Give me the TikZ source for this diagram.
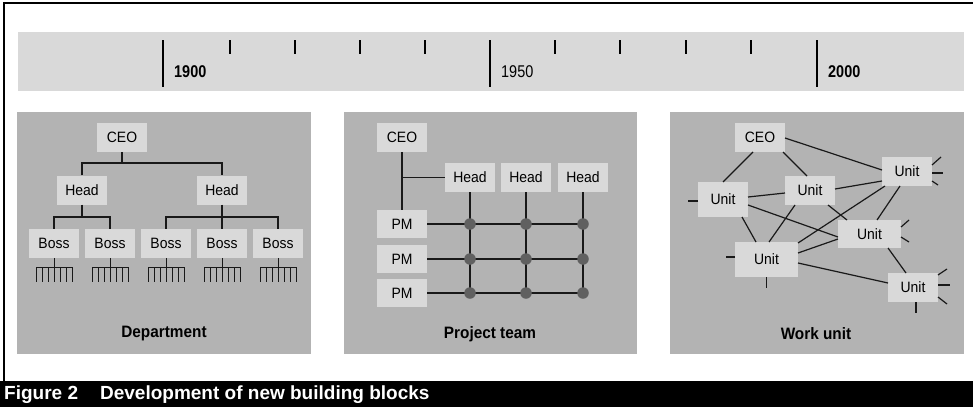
\documentclass[tikz,border=0pt]{standalone}
\usepackage{fontspec}
\setmainfont{Liberation Sans}
\newfontfamily\cf[FakeStretch=0.85]{Liberation Sans}
\newfontfamily\cfw[FakeStretch=0.93]{Liberation Sans}
\usetikzlibrary{calc}
\definecolor{bandgray}{HTML}{D9D9D9}
\definecolor{panelgray}{HTML}{B3B3B3}
\definecolor{dotgray}{HTML}{606060}
\begin{document}
\begin{tikzpicture}[x=1pt,y=-1pt,
  box/.style={fill=bandgray, inner sep=0pt, minimum width=50pt, minimum height=29pt,
    font=\cfw\fontsize{15}{15}\selectfont},
  ln/.style={line width=1.2pt, draw=black!90},
  stub/.style={line width=1.2pt, draw=black!90},
  dotnode/.style={circle, fill=dotgray, inner sep=0pt, minimum size=11.5pt},
  paneltitle/.style={font=\cfw\bfseries\fontsize{16.5}{17}\selectfont},
  year/.style={anchor=base west, inner sep=0pt, font=\cf\fontsize{17}{17}\selectfont},
  majortick/.style={line width=2pt, draw=black},
  minortick/.style={line width=1.1pt, draw=black}]
\useasboundingbox (0,0) rectangle (973,407);
% frame
\draw[line width=2.4pt] (4,381) -- (4,3) -- (973,3);
% timeline band
\fill[bandgray] (18,32) rectangle (964,91);
\draw[majortick] (163,40) -- (163,87);
\draw[majortick, line width=1.2pt] (490,40) -- (490,87);
\draw[majortick] (817,40) -- (817,87);
\foreach \x in {230,295,360,425,555,620,686,751}
  \draw[minortick] (\x,40) -- (\x,54);
\node[year, font=\cf\bfseries\fontsize{17}{17}\selectfont] (y1900) at (174,77) {1900};
\node[year] (y1950) at (501,77) {1950};
\node[year, font=\cf\bfseries\fontsize{17}{17}\selectfont] (y2000) at (828,77) {2000};
% panels
\fill[panelgray] (17,112) rectangle (311,354);
\fill[panelgray] (344,112) rectangle (637,354);
\fill[panelgray] (670,112) rectangle (964,354);
% ---------- Panel 1: Department
\node[box] (ceo1) at (122,137.5) {CEO};
\node[box] (h1a) at (82,190) {Head};
\node[box] (h1b) at (222,190) {Head};
\node[box] (b1) at (54,243.5) {Boss};
\node[box] (b2) at (110,243.5) {Boss};
\node[box] (b3) at (166,243.5) {Boss};
\node[box] (b4) at (222,243.5) {Boss};
\node[box] (b5) at (278,243.5) {Boss};
\coordinate (j1) at (122,163);
\coordinate (j2) at (82,217);
\coordinate (j3) at (222,217);
\draw[ln] (ceo1.south) -- (j1);
\draw[ln] (h1a.north) |- (j1) -| (h1b.north);
\draw[ln] (h1a.south) -- (j2);
\draw[ln] (b1.north) |- (j2) -| (b2.north);
\draw[ln] (h1b.south) -- (b4.north);
\draw[ln] (b3.north) |- (j3) -| (b5.north);
\foreach \b in {b1,b2,b3,b4,b5} {
  \draw[ln, line width=0.9pt] (\b.south) -- ++(0,24);
  \draw[ln, line width=0.9pt] ([shift={(-18,9)}]\b.south) -- ++(36,0);
  \foreach \d in {-18,-12,-6,6,12,18}
    \draw[ln, line width=0.9pt] ([shift={(\d,9)}]\b.south) -- ++(0,15);
}
\node[paneltitle] (t1) at (164,334) {Department};
% ---------- Panel 2: Project team
\node[box] (ceo2) at (402,137.5) {CEO};
\node[box] (h2a) at (470,177.5) {Head};
\node[box] (h2b) at (526,177.5) {Head};
\node[box] (h2c) at (583,177.5) {Head};
\node[box, minimum height=28pt] (p1) at (402,224) {PM};
\node[box, minimum height=28pt] (p2) at (402,259) {PM};
\node[box, minimum height=28pt] (p3) at (402,293) {PM};
\draw[ln] (ceo2.south) -- (p1.north);
\draw[ln] (ceo2.south |- h2a.west) -- (h2a.west);
\foreach \h/\n in {h2a/a,h2b/b,h2c/c} {
  \coordinate (d1\n) at (\h |- p1);
  \coordinate (d2\n) at (\h |- p2);
  \coordinate (d3\n) at (\h |- p3);
  \draw[ln] (\h.south) -- (d3\n);
}
\draw[ln] (p1.east) -- (d1c);
\draw[ln] (p2.east) -- (d2c);
\draw[ln] (p3.east) -- (d3c);
\foreach \r in {1,2,3}
  \foreach \n in {a,b,c}
    \node[dotnode] (dot\r\n) at (d\r\n) {};
\node[paneltitle] (t2) at (490,334) {Project team};
% ---------- Panel 3: Work unit
\node[box] (ceo3) at (760,137.5) {CEO};
\node[box, minimum height=35pt] (u1) at (723,199.5) {Unit};
\node[box] (u2) at (810,190.5) {Unit};
\node[box] (u3) at (907,171.5) {Unit};
\node[box, minimum width=63pt, minimum height=28pt] (u4) at (869.5,234) {Unit};
\node[box, minimum width=63pt, minimum height=35pt] (u5) at (766.5,259.5) {Unit};
\node[box] (u6) at (913,287.5) {Unit};
\draw[ln] ([shift={(-7,14.5)}]ceo3.center) -- ([shift={(0,-17.5)}]u1.center);
\draw[ln] ([shift={(23,14.5)}]ceo3.center) -- ([shift={(-3,-14.5)}]u2.center);
\draw[ln] ([shift={(25,0.5)}]ceo3.center) -- ([shift={(-25,-1.5)}]u3.center);
\draw[ln] ([shift={(25,-2.5)}]u1.center) -- ([shift={(-25,2.5)}]u2.center);
\draw[ln] ([shift={(25,-1.5)}]u2.center) -- ([shift={(-25,9.5)}]u3.center);
\draw[ln] ([shift={(25,5.5)}]u1.center) -- ([shift={(-31.5,3)}]u4.center);
\draw[ln] ([shift={(18,14.5)}]u2.center) -- ([shift={(-22.5,-14)}]u4.center);
\draw[ln] ([shift={(19,17.5)}]u1.center) -- ([shift={(-10.5,-17.5)}]u5.center);
\draw[ln] ([shift={(-15,14.5)}]u2.center) -- ([shift={(2.5,-17.5)}]u5.center);
\draw[ln] ([shift={(-22,14.5)}]u3.center) -- ([shift={(31.5,-16.5)}]u5.center);
\draw[ln] ([shift={(-7,14.5)}]u3.center) -- ([shift={(7.5,-14)}]u4.center);
\draw[ln] ([shift={(-31.5,5)}]u4.center) -- ([shift={(31.5,-6.5)}]u5.center);
\draw[ln] ([shift={(31.5,3.5)}]u5.center) -- ([shift={(-25,-4.5)}]u6.center);
\draw[ln] ([shift={(18.5,14)}]u4.center) -- ([shift={(-7,-14.5)}]u6.center);
% stubs
\draw[stub] ([shift={(-25,1.5)}]u1.center) -- ++(-10,0);
\draw[stub] ([shift={(25,-6.5)}]u3.center) -- ++(9,-8);
\draw[stub] ([shift={(25,1.5)}]u3.center) -- ++(11,0);
\draw[stub] ([shift={(25,9.5)}]u3.center) -- ++(6,4);
\draw[stub] ([shift={(31.5,-7)}]u4.center) -- ++(8,-7);
\draw[stub] ([shift={(31.5,3)}]u4.center) -- ++(8,5);
\draw[stub] ([shift={(-31.5,-2.5)}]u5.center) -- ++(-9,0);
\draw[stub] (u5.south) -- ++(0,11);
\draw[stub] ([shift={(25,-12.5)}]u6.center) -- ++(9,-6);
\draw[stub] ([shift={(25,-2.5)}]u6.center) -- ++(12,0);
\draw[stub] ([shift={(25,9.5)}]u6.center) -- ++(9,7);
\draw[stub] ([shift={(3,14.5)}]u6.center) -- ++(0,11);
\node[paneltitle] (t3) at (816,334) {Work unit};
% caption bar
\fill[black] (0,381) rectangle (973,407);
\node[anchor=west, inner sep=0pt, text=white, font=\bfseries\fontsize{19}{19}\selectfont]
  (cap) at (4,394.5) {Figure 2\hspace{22pt}Development of new building blocks};
\end{tikzpicture}
\end{document}
